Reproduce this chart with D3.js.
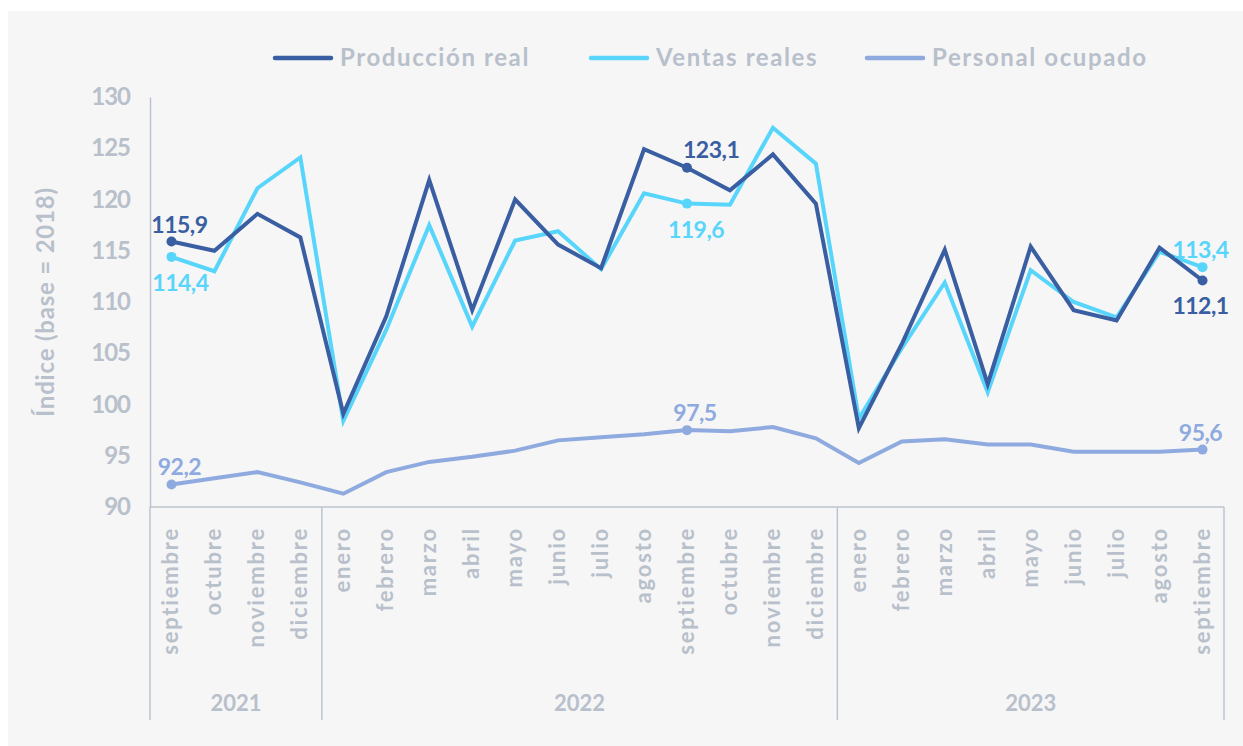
<!DOCTYPE html>
<html lang="es">
<head>
  <meta charset="UTF-8">
  <title>Índices producción, ventas y personal</title>
  <style>
    html, body { margin: 0; padding: 0; background: #ffffff; }
    svg { display: block; font-family: Lato, "Noto Sans", sans-serif; font-weight: 700; }
  </style>
</head>
<body>
  <svg id="svg" width="1243" height="746"></svg>

  <script src="https://cdn.jsdelivr.net/npm/d3@7"></script>
  <script>
    // --- data ---
    const months = [
      'septiembre', 'octubre', 'noviembre', 'diciembre',
      'enero', 'febrero', 'marzo', 'abril', 'mayo', 'junio', 'julio', 'agosto',
      'septiembre', 'octubre', 'noviembre', 'diciembre',
      'enero', 'febrero', 'marzo', 'abril', 'mayo', 'junio', 'julio', 'agosto', 'septiembre'
    ]
    const years = [
      { label: '2021', from: 0, to: 3 },
      { label: '2022', from: 4, to: 15 },
      { label: '2023', from: 16, to: 24 }
    ]
    const produccion = [115.9, 115.0, 118.6, 116.3, 99.1, 108.6, 121.9, 109.2, 120.0, 115.6, 113.3, 124.9,
      123.1, 120.9, 124.4, 119.6, 97.7, 105.9, 115.1, 102.0, 115.4, 109.2, 108.2, 115.3, 112.1]
    const ventas = [114.4, 113.0, 121.1, 124.1, 98.4, 107.3, 117.5, 107.6, 116.0, 116.9, 113.2, 120.6,
      119.6, 119.5, 127.0, 123.5, 98.6, 105.5, 111.9, 101.2, 113.1, 110.0, 108.5, 114.9, 113.4]
    const personal = [92.2, 92.8, 93.4, 92.4, 91.3, 93.4, 94.4, 94.9, 95.5, 96.5, 96.8, 97.1,
      97.5, 97.4, 97.8, 96.7, 94.3, 96.4, 96.6, 96.1, 96.1, 95.4, 95.4, 95.4, 95.6]
    const yTicks = [90, 95, 100, 105, 110, 115, 120, 125, 130]

    const series = [
      { name: 'Producción real', values: produccion, color: '#395ea1',
        labels: [{ i: 0, pos: 'above' }, { i: 12, pos: 'aboveRight' }, { i: 24, pos: 'below' }] },
      { name: 'Ventas reales', values: ventas, color: '#58d5fb',
        labels: [{ i: 0, pos: 'below' }, { i: 12, pos: 'below' }, { i: 24, pos: 'above' }] },
      { name: 'Personal ocupado', values: personal, color: '#8eaadf',
        labels: [{ i: 0, pos: 'above' }, { i: 12, pos: 'above' }, { i: 24, pos: 'above' }] }
    ]

    // --- layout ---
    const W = 1243, H = 746
    const plotLeft = 150, plotRight = 1224, plotTop = 97, plotBottom = 507
    const textGray = '#b8c0cb'
    const axisGray = '#bcc5cf'

    const svg = d3.select('#svg')

    svg.append('rect')
      .attr('x', 8).attr('y', 11)
      .attr('width', W - 8).attr('height', H - 11)
      .attr('fill', '#f6f6f6')

    const x = d3.scaleBand()
      .domain(d3.range(months.length))
      .range([plotLeft, plotRight])
    const cx = i => x(i) + x.bandwidth() / 2

    const y = d3.scaleLinear()
      .domain([90, 130])
      .range([plotBottom, plotTop])

    // y axis
    const yAxis = svg.append('g')
      .attr('transform', `translate(${plotLeft},0)`)
      .call(d3.axisLeft(y).tickValues(yTicks).tickSize(0).tickPadding(20))
    yAxis.select('.domain').attr('stroke', axisGray).attr('stroke-width', 1.5)
    yAxis.selectAll('text')
      .attr('fill', textGray)
      .style('font-size', '24px')
      .style('font-family', 'Lato, sans-serif')
      .style('font-weight', 700)
      .style('letter-spacing', '-1px')

    svg.append('text')
      .attr('transform', `translate(54, ${(plotTop + plotBottom) / 2}) rotate(-90)`)
      .attr('text-anchor', 'middle')
      .attr('fill', textGray)
      .style('font-size', '24px')
      .style('letter-spacing', '0.8px')
      .text('Índice (base = 2018)')

    // x axis baseline and year separators
    svg.append('line')
      .attr('x1', plotLeft).attr('x2', plotRight)
      .attr('y1', plotBottom).attr('y2', plotBottom)
      .attr('stroke', axisGray).attr('stroke-width', 1.5)

    const sepX = [plotLeft].concat(years.map(d => x(d.to) + x.bandwidth()))
    svg.append('g')
      .selectAll('line')
      .data(sepX)
      .enter()
      .append('line')
      .attr('x1', d => d).attr('x2', d => d)
      .attr('y1', plotBottom).attr('y2', 720)
      .attr('stroke', axisGray).attr('stroke-width', 1.5)

    svg.append('g')
      .selectAll('text')
      .data(months)
      .enter()
      .append('text')
      .attr('transform', (d, i) => `translate(${cx(i) + 7}, 527) rotate(-90)`)
      .attr('text-anchor', 'end')
      .attr('fill', textGray)
      .style('font-size', '22px')
      .style('letter-spacing', '1.8px')
      .text(d => d)

    svg.append('g')
      .selectAll('text')
      .data(years)
      .enter()
      .append('text')
      .attr('x', d => (x(d.from) + x(d.to) + x.bandwidth()) / 2)
      .attr('y', 711)
      .attr('text-anchor', 'middle')
      .attr('fill', textGray)
      .style('font-size', '22px')
      .text(d => d.label)

    // lines
    const lineGen = d3.line()
      .x((d, i) => cx(i))
      .y(d => y(d))

    const plot = svg.append('g')
    const drawOrder = [series[2], series[1], series[0]]
    plot.selectAll('path')
      .data(drawOrder)
      .enter()
      .append('path')
      .attr('d', d => lineGen(d.values))
      .attr('fill', 'none')
      .attr('stroke', d => d.color)
      .attr('stroke-width', 4)
      .attr('stroke-linejoin', 'miter')

    // end-point markers and labels
    const fmt = v => v.toFixed(1).replace('.', ',')
    const offsets = {
      above: { dx: 8, dy: -9, anchor: 'middle' },
      below: { dx: 9, dy: 34, anchor: 'middle' },
      aboveRight: { dx: -4, dy: -10, anchor: 'start' }
    }
    series.forEach(s => {
      const g = svg.append('g')
      g.selectAll('circle')
        .data(s.labels)
        .enter()
        .append('circle')
        .attr('cx', d => cx(d.i))
        .attr('cy', d => y(s.values[d.i]))
        .attr('r', 5)
        .attr('fill', s.color)
      g.selectAll('text')
        .data(s.labels)
        .enter()
        .append('text')
        .attr('x', d => cx(d.i) + (d.i === 24 ? -2 : offsets[d.pos].dx))
        .attr('y', d => y(s.values[d.i]) + offsets[d.pos].dy)
        .attr('text-anchor', d => offsets[d.pos].anchor)
        .attr('fill', s.color)
        .style('font-size', '23px')
        .style('letter-spacing', '-0.5px')
        .text(d => fmt(s.values[d.i]))
    })

    // legend
    const legendX = [275, 591, 867]
    const legend = svg.append('g')
      .selectAll('g')
      .data(series)
      .enter()
      .append('g')
      .attr('transform', (d, i) => `translate(${legendX[i]}, 58)`)
    legend.append('line')
      .attr('x1', 0).attr('x2', 56)
      .attr('stroke', d => d.color)
      .attr('stroke-width', 4.5)
      .attr('stroke-linecap', 'round')
    legend.append('text')
      .attr('x', 65)
      .attr('y', 8)
      .attr('fill', textGray)
      .style('font-size', '24px')
      .style('letter-spacing', '1.6px')
      .text(d => d.name)
  </script>
</body>
</html>
